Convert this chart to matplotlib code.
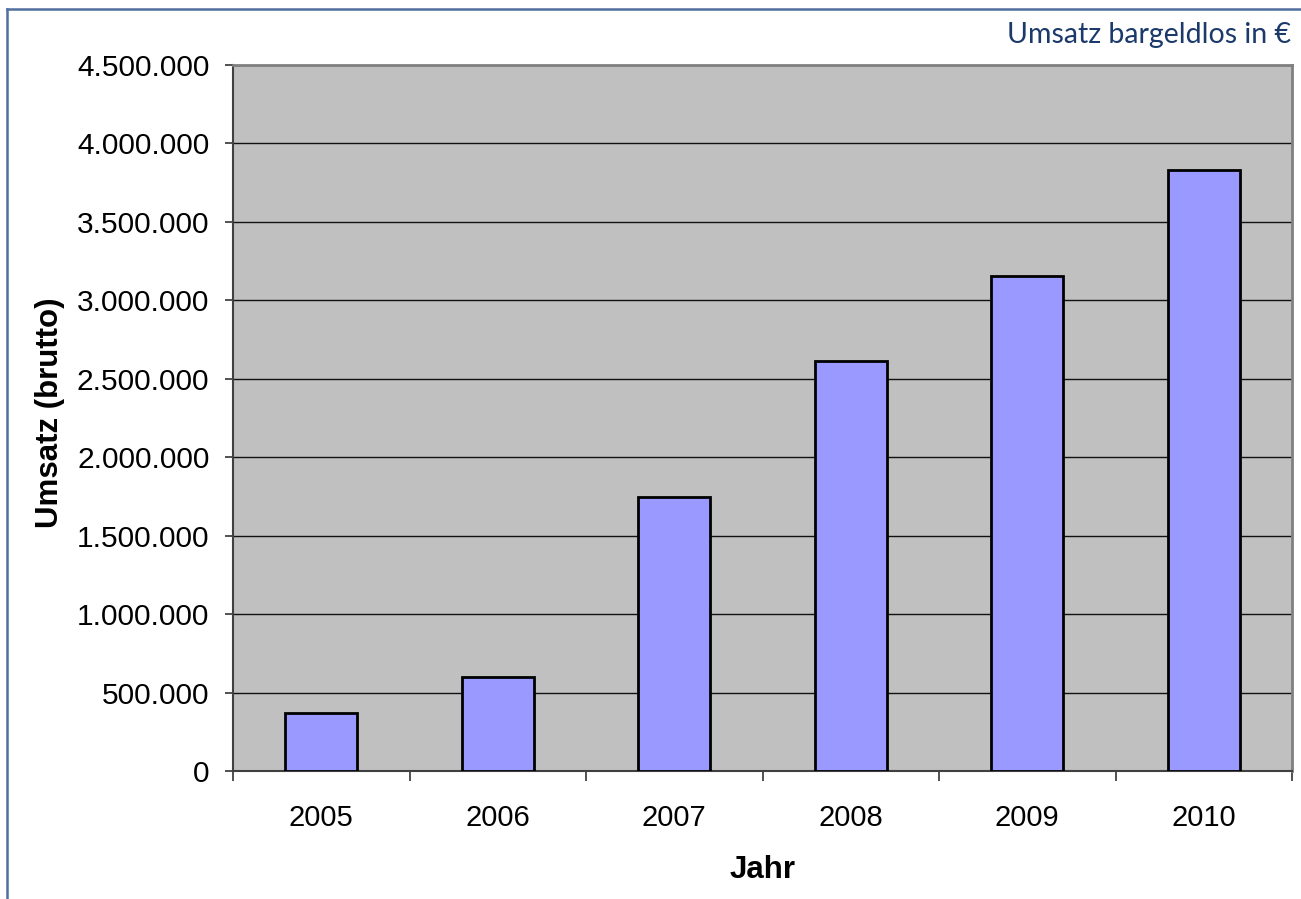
import matplotlib
matplotlib.use("Agg")
import matplotlib.pyplot as plt
from matplotlib.ticker import FuncFormatter, MultipleLocator
from matplotlib.lines import Line2D

years = ["2005", "2006", "2007", "2008", "2009", "2010"]
umsatz = [368000, 601000, 1748000, 2613000, 3155000, 3830000]

title_text = "Umsatz bargeldlos in €"
y_label = "Umsatz (brutto)"
x_label = "Jahr"

W, H = 1301, 899
fig = plt.figure(figsize=(W / 100, H / 100), dpi=100)
fig.patch.set_facecolor("white")

left, right, top, bottom = 233, 1292, 65, 771
ax = fig.add_axes([left / W, 1 - bottom / H, (right - left) / W, (bottom - top) / H])
ax.set_facecolor("#c0c0c0")

x = list(range(len(years)))
ax.bar(x, umsatz, width=0.41, color="#9999ff", edgecolor="black", linewidth=2.0, zorder=3)

ax.set_xlim(-0.5, len(years) - 0.5)
ax.set_ylim(0, 4500000)
ax.yaxis.set_major_locator(MultipleLocator(500000))
ax.yaxis.set_major_formatter(FuncFormatter(lambda v, p: f"{int(round(v)):,}".replace(",", ".")))
ax.grid(axis="y", color="#111111", linewidth=1.0, zorder=1)
ax.set_axisbelow(True)

ax.set_xticks(x)
ax.set_xticklabels(years)
ax.set_xticks([i - 0.5 for i in range(len(years) + 1)], minor=True)
ax.tick_params(axis="x", which="major", length=0, pad=24, labelsize=21)
ax.tick_params(axis="x", which="minor", length=7, width=1.2, color="#333333", direction="out")
ax.tick_params(axis="y", which="major", length=6, width=1.2, color="#333333", pad=11, labelsize=21.5)

for lab in ax.get_xticklabels() + ax.get_yticklabels():
    lab.set_fontfamily("Liberation Sans")

for s in ["top", "right"]:
    ax.spines[s].set_color("#808080")
    ax.spines[s].set_linewidth(2)
for s in ["left", "bottom"]:
    ax.spines[s].set_color("#404040")
    ax.spines[s].set_linewidth(1.5)

fig.text(763 / W, 1 - 870 / H, x_label, ha="center", va="center",
         fontsize=22.5, fontweight="bold", family="Liberation Sans")
fig.text(50 / W, 1 - 413 / H, y_label, ha="center", va="center", rotation=90,
         fontsize=22.5, fontweight="bold", family="Liberation Sans")

fig.text(1291 / W, 1 - 43 / H, title_text, ha="right", va="baseline",
         fontsize=20.5, color="#1b3a6b", family="Lato")

# outer frame (top and left edges)
frame_col = "#4f6f9f"
fig.add_artist(Line2D([7 / W, 1.0], [1 - 9 / H, 1 - 9 / H], color=frame_col, linewidth=1.8,
                      transform=fig.transFigure))
fig.add_artist(Line2D([7 / W, 7 / W], [1 - 9 / H, 0.0], color=frame_col, linewidth=1.8,
                      transform=fig.transFigure))

fig.savefig("out.png", dpi=100)
